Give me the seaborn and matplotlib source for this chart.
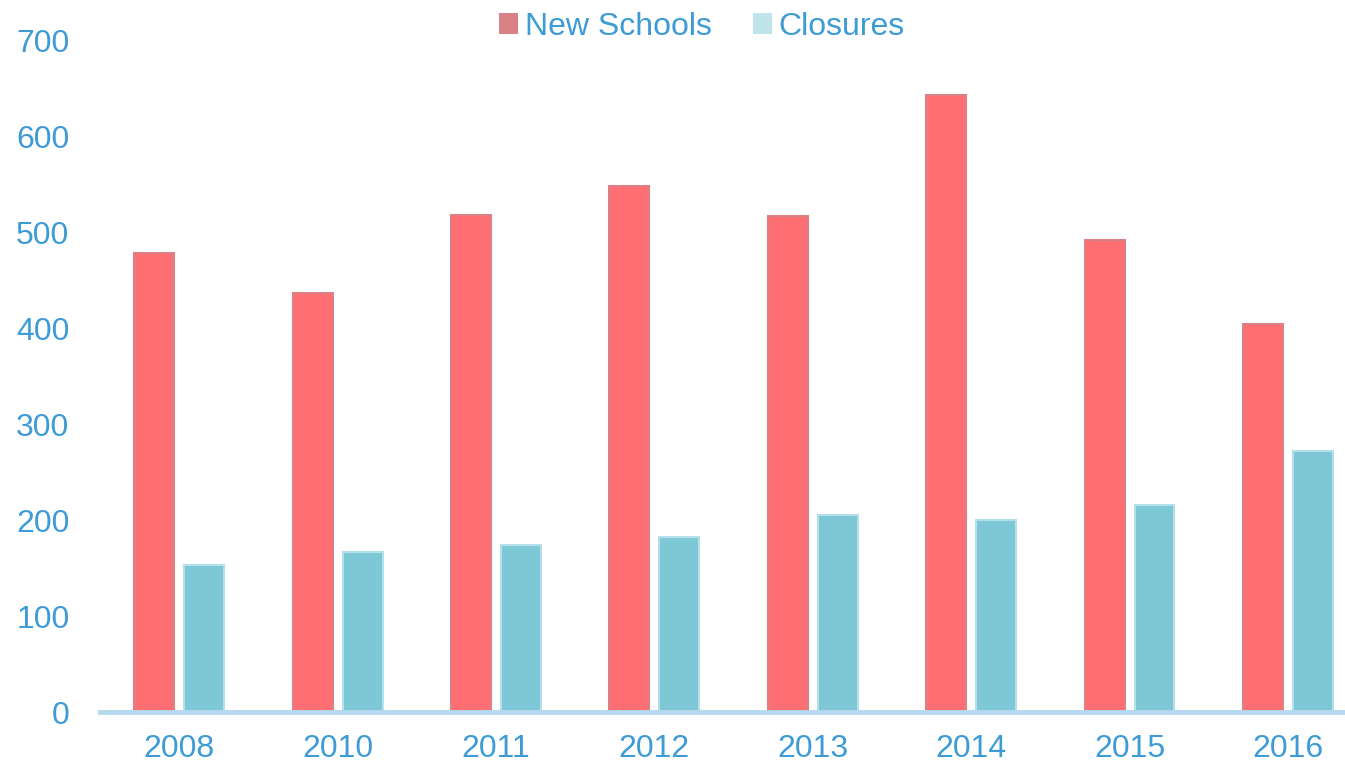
import pandas as pd
import matplotlib
matplotlib.use("Agg")
import matplotlib.pyplot as plt
import seaborn as sns

# -------------------------------
# DATA
# -------------------------------

years = ["2008", "2010", "2011", "2012", "2013", "2014", "2015", "2016"]
new_schools = [478, 436, 518, 548, 517, 643, 492, 404]
closures = [153, 167, 174, 182, 205, 200, 216, 272]
series_names = ["New Schools", "Closures"]

TEXT_BLUE = "#3d9bd6"
RED = "#fd6f72"
CYAN = "#7ec7d6"

df = pd.DataFrame({
    "Year": years * 2,
    "Count": new_schools + closures,
    "Series": [series_names[0]] * len(years) + [series_names[1]] * len(years),
})

# -------------------------------
# PLOT
# -------------------------------

sns.set_style("white")
plt.rcParams["font.family"] = ["Liberation Sans", "DejaVu Sans"]

fig = plt.figure(figsize=(13.45, 7.67), dpi=100)
ax = fig.add_axes([100 / 1345, 55 / 767, 1245 / 1345, 672 / 767])

sns.barplot(
    data=df, x="Year", y="Count", hue="Series",
    palette=[RED, CYAN], saturation=1, width=0.63, gap=0.2,
    linewidth=0, ax=ax, legend=False,
)

# slight edge shading to mimic the gradient look
for patch, col in zip(ax.patches, [RED] * len(years) + [CYAN] * len(years)):
    edge = "#d98185" if col == RED else "#b3e0ea"
    patch.set_edgecolor(edge)
    patch.set_linewidth(1.5)

ax.set_ylim(0, 700)
ax.set_xlim(-0.5, 7.36)
ax.set_yticks(range(0, 701, 100))
ax.set_xlabel("")
ax.set_ylabel("")

ax.tick_params(axis="both", length=0, labelsize=23, labelcolor=TEXT_BLUE)
ax.tick_params(axis="y", pad=22)
ax.tick_params(axis="x", pad=16)

for side in ["top", "right", "left"]:
    ax.spines[side].set_visible(False)
ax.spines["bottom"].set_color("#b5d9ee")
ax.spines["bottom"].set_linewidth(3.5)

handles = [
    plt.Rectangle((0, 0), 1, 1, facecolor="#d98185", edgecolor="none"),
    plt.Rectangle((0, 0), 1, 1, facecolor="#c0e4ec", edgecolor="none"),
]
fig.legend(
    handles, series_names, loc="upper center",
    bbox_to_anchor=(0.522, 1.022), ncol=2, frameon=False,
    fontsize=23, labelcolor=TEXT_BLUE,
    handlelength=0.6, handleheight=0.6, handletextpad=0.2,
    columnspacing=1.3,
)

fig.savefig("out.png", dpi=100)
plt.close(fig)
